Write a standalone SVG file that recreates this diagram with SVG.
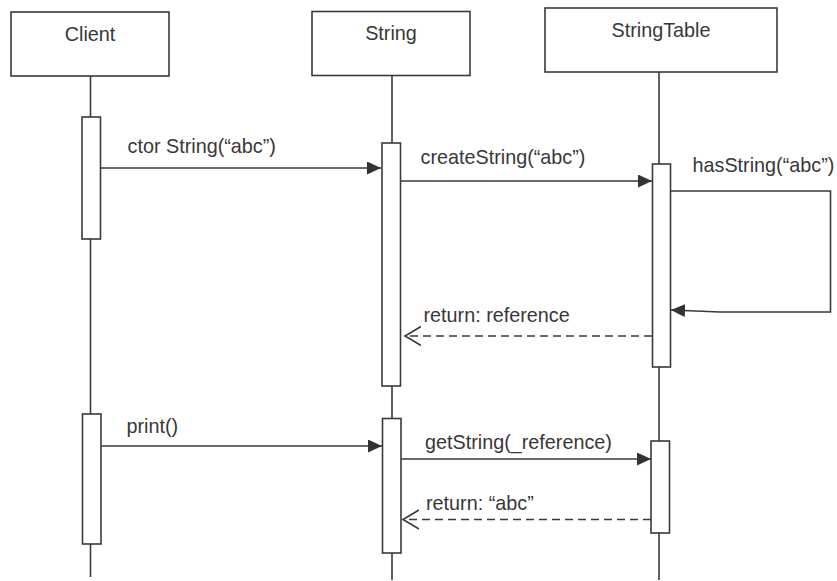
<svg xmlns="http://www.w3.org/2000/svg" width="837" height="581" viewBox="0 0 837 581">
<style>
.box{fill:#fff;stroke:#3a3a3a;stroke-width:1.6}
.life{stroke:#3a3a3a;stroke-width:1.6;fill:none}
.act{fill:#fff;stroke:#3a3a3a;stroke-width:1.6}
.msg{stroke:#3a3a3a;stroke-width:1.6;fill:none}
.ret{stroke:#3a3a3a;stroke-width:1.6;fill:none;stroke-dasharray:8 5}
text{font-family:"Liberation Sans",Arial,sans-serif;font-size:19.8px;fill:#383838}
.c{text-anchor:middle}
</style>
<defs>
<marker id="filled" markerUnits="userSpaceOnUse" markerWidth="15" markerHeight="14" refX="14" refY="6.5" orient="auto" viewBox="0 0 15 14">
<path d="M0,0 L14,6.5 L0,13 z" fill="#333"/>
</marker>
<marker id="open" markerUnits="userSpaceOnUse" markerWidth="18" markerHeight="21" refX="16" refY="10" orient="auto" viewBox="0 0 18 21">
<polyline points="0,0.5 16,10 0,19.5" fill="none" stroke="#3a3a3a" stroke-width="1.6"/>
</marker>
</defs>

<g id="client">
<rect class="box" x="11" y="12" width="158" height="64"/>
<text class="c" x="90" y="41">Client</text>
<line class="life" x1="90.5" y1="76" x2="90.5" y2="577"/>
<rect class="act" x="82" y="117" width="18.5" height="122"/>
<rect class="act" x="82.5" y="414" width="18.5" height="130"/>
</g>

<g id="string">
<rect class="box" x="312" y="11.5" width="158" height="64"/>
<text class="c" x="391" y="40">String</text>
<line class="life" x1="392" y1="75.5" x2="392" y2="580"/>
<rect class="act" x="382" y="143" width="18.5" height="243"/>
<rect class="act" x="382.5" y="418.5" width="18.5" height="134.5"/>
</g>

<g id="stringtable">
<rect class="box" x="545" y="8" width="232" height="64"/>
<text class="c" x="661" y="37">StringTable</text>
<line class="life" x1="659" y1="72" x2="659" y2="580"/>
<rect class="act" x="652.5" y="164" width="18" height="203"/>
<rect class="act" x="651" y="441" width="18.5" height="92"/>
</g>

<g id="connectors">
<line class="msg" x1="101" y1="168" x2="381" y2="168" marker-end="url(#filled)"/>
<text x="127.5" y="153">ctor String(“abc”)</text>

<line class="msg" x1="401" y1="181" x2="652" y2="181" marker-end="url(#filled)"/>
<text x="420.5" y="164">createString(“abc”)</text>

<polyline class="msg" points="671,191 830.5,191 830.5,312 720,312 671,310" marker-end="url(#filled)"/>
<text x="692.5" y="172">hasString(“abc”)</text>

<line class="ret" x1="652" y1="336" x2="405" y2="336" marker-end="url(#open)"/>
<text x="423.5" y="322">return: reference</text>

<line class="msg" x1="101.5" y1="446" x2="382" y2="446" marker-end="url(#filled)"/>
<text x="126.5" y="432.5">print()</text>

<line class="msg" x1="401.5" y1="459" x2="651" y2="459" marker-end="url(#filled)"/>
<text x="425" y="449">getString(_reference)</text>

<line class="ret" x1="651" y1="519.5" x2="403" y2="519.5" marker-end="url(#open)"/>
<text x="426" y="510">return: “abc”</text>
</g>
</svg>
